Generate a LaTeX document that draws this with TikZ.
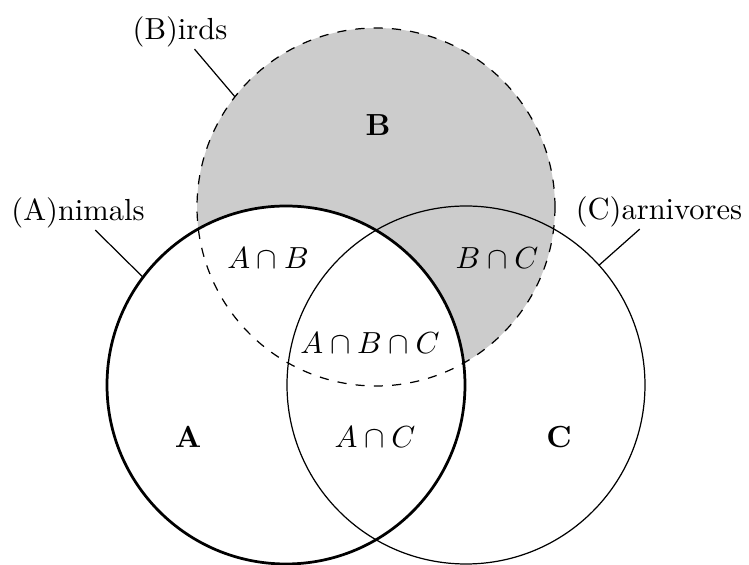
\documentclass[tikz,border=0pt]{standalone}
\usetikzlibrary{calc}
\begin{document}
\begin{tikzpicture}[x=0.328pt,y=0.328pt,
  setlabel/.style={inner sep=0.4pt},
  region/.style={inner sep=0pt},
  leader/.style={line width=0.4pt}]
\useasboundingbox (0,0) rectangle (749,565);
% circle centres and common radius
\def\rad{179}
\coordinate (cA) at (286,180);
\coordinate (cB) at (376,358);
\coordinate (cC) at (466,180);
% shade B outside A
\fill[black!20] (cB) circle (\rad);
\fill[white] (cA) circle (\rad);
% outlines
\draw[line width=0.9pt] (cA) circle (\rad);
\draw[line width=0.4pt,dashed] (cB) circle (\rad);
\draw[line width=0.4pt] (cC) circle (\rad);
% points on the rims where the leaders end
\coordinate (pA) at ($(cA)+(143:\rad)$);
\coordinate (pB) at ($(cB)+(142:\rad)$);
\coordinate (pC) at ($(cC)+(42:\rad)$);
% set names with leaders
\node[setlabel] (labA) at (78,352) {(A)nimals};
\node[setlabel] (labB) at (180,533) {(B)irds};
\node[setlabel] (labC) at (659,353) {(C)arnivores};
\draw[leader] (labA) -- (pA);
\draw[leader] (labB) -- (pB);
\draw[leader] (labC) -- (pC);
% region labels
\node[region] (tA) at (188,128) {\textbf{A}};
\node[region] (tB) at (378,440) {\textbf{B}};
\node[region] (tC) at (559,128) {\textbf{C}};
\node[region] (tAB) at (268,307) {$A\cap B$};
\node[region] (tBC) at (497,307) {$B\cap C$};
\node[region] (tABC) at (370,222) {$A\cap B\cap C$};
\node[region] (tAC) at (375,128) {$A\cap C$};
\end{tikzpicture}
\end{document}
